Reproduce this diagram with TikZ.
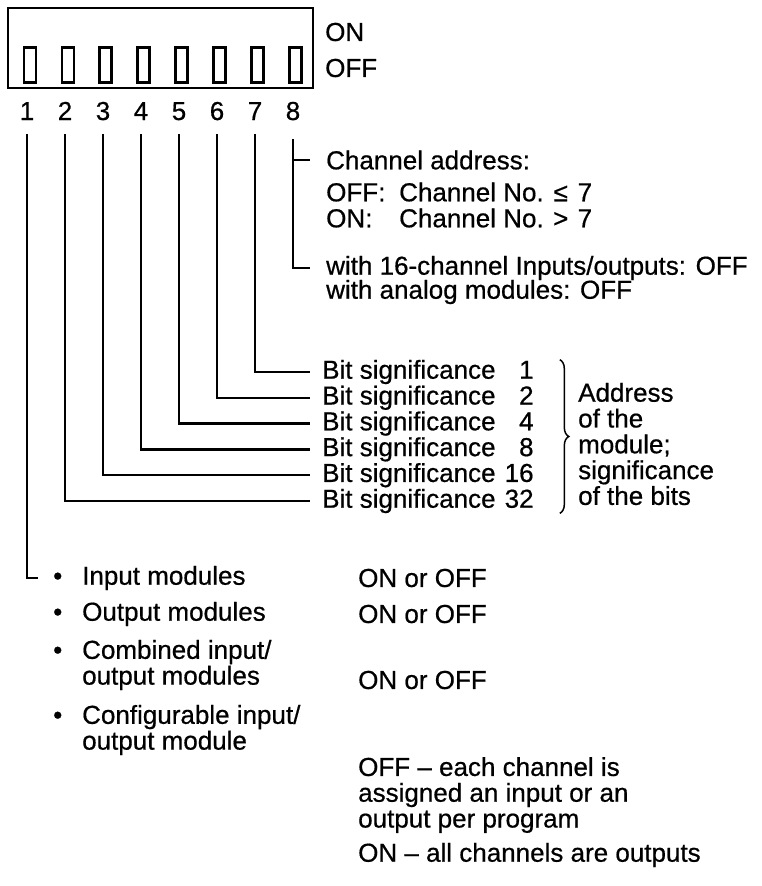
\documentclass[tikz,border=0pt]{standalone}
\usepackage{fontspec}
\setmainfont{Liberation Sans}
\newfontfamily\dipfont[FakeBold=0.6]{Liberation Sans}
\usetikzlibrary{decorations.pathreplacing}

\newcommand{\bulbox}{\makebox[29pt][l]{\textbullet}}
\newcommand{\bitrow}[1]{Bit significance\makebox[38pt][r]{#1}}

\begin{document}
\begin{tikzpicture}[
    x=1pt, y=1pt,
    txt/.style={anchor=west, inner sep=0pt, align=left, font=\dipfont\fontsize{26}{25.8}\selectfont},
    num/.style={anchor=base, inner sep=0pt, font=\dipfont\fontsize{26}{25.8}\selectfont},
    lead/.style={line width=2.3pt},
    switch/.style={draw, line width=2.8pt, minimum width=12pt, minimum height=35pt, inner sep=0pt},
    brace/.style={decorate, decoration={brace, amplitude=9pt}, line width=1.5pt}
]
\useasboundingbox (0,0) rectangle (762,-886);

% DIP switch block
\node[draw, line width=2.8pt, minimum width=305pt, minimum height=80pt, inner sep=0pt] (block) at (160.5,-48) {};
\foreach \i in {1,...,8}
    \node[switch] (s\i) at ({30+37.9*(\i-1)},-65) {};
\foreach \i in {1,...,8}
    \node[num] (n\i) at ({27+38*(\i-1)},-120) {\i};
\node[txt] (on) at (325,-32) {ON};
\node[txt] (off) at (325,-68) {OFF};

% Switch 8
\node[txt] (addr) at (326,-160) {Channel address:};
\node[txt] (chlo) at (326,-192) {\makebox[73pt][l]{OFF:}Channel No.\makebox[34pt]{≤}7};
\node[txt] (chhi) at (326,-218) {\makebox[73pt][l]{ON:}Channel No.\makebox[34pt]{>}7};
\node[txt] (w16) at (326,-268) {with 16-channel Inputs/outputs: OFF};
\node[txt] (wan) at (326,-292) {with analog modules: OFF};
\draw[lead] ([yshift=-19pt]n8.south) |- ([xshift=-16pt]w16.west);
\draw[lead] ([xshift=-16pt]addr.west) -- (addr.west -| n8.south);

% Switches 2-7: module address
\foreach \v [count=\k] in {1,2,4,8,16,32}
    \node[txt] (b\k) at (322,{-372-25.8*(\k-1)}) {\bitrow{\v}};
\foreach \n/\b in {7/1,6/2,5/3,4/4,3/5,2/6}
    \draw[lead] ([yshift=-14pt]n\n.south) |- ([xshift=-12pt]b\b.west);
\draw[brace] ([xshift=26pt]b1.north east) -- ([xshift=26pt]b6.south east);
\node[txt] (addrbits) at (578,-444) {Address\\of the\\module;\\significance\\of the bits};

% Switch 1: module type
\node[txt] (in1) at (53,-578) {\bulbox Input modules};
\node[txt] (in2) at (53,-614) {\bulbox Output modules};
\node[txt] (in3) at (53,-665) {\bulbox Combined input/\\\hspace*{29pt}output modules};
\node[txt] (in4) at (53,-730) {\bulbox Configurable input/\\\hspace*{29pt}output module};
\draw[lead] ([yshift=-14pt]n1.south) |- ([xshift=-15pt]in1.west);

\node[txt] (st1) at (358,-578) {ON or OFF};
\node[txt] (st2) at (358,-614) {ON or OFF};
\node[txt] (st3) at (358,-680) {ON or OFF};
\node[txt] (st4) at (358,-795) {OFF – each channel is\\assigned an input or an\\output per program};
\node[txt] (st5) at (358,-855) {ON – all channels are outputs};

\end{tikzpicture}
\end{document}
